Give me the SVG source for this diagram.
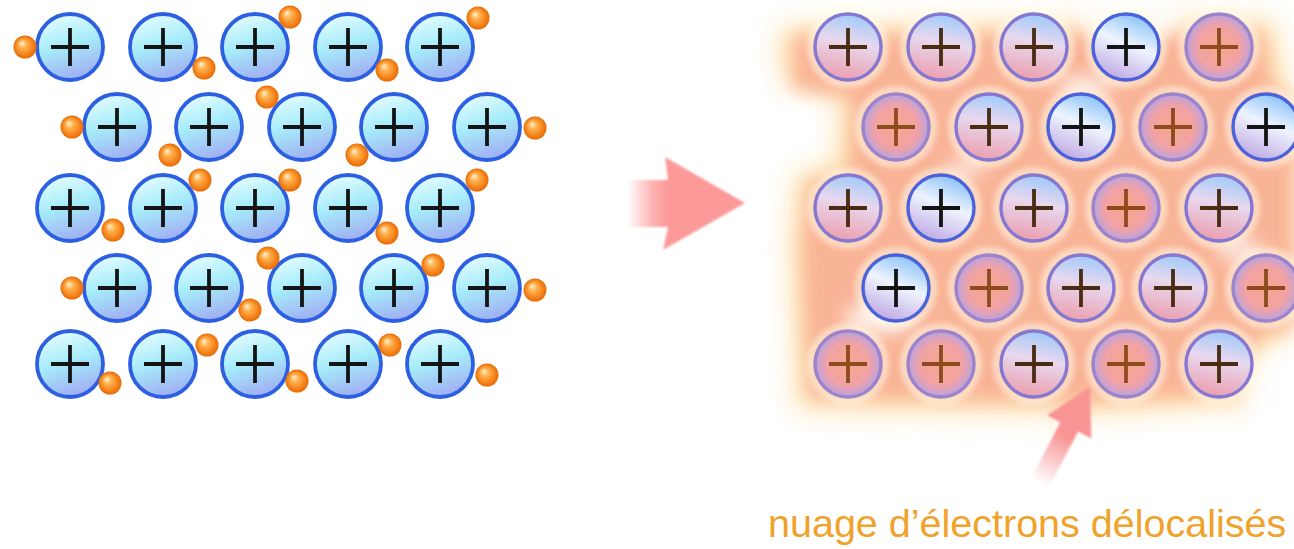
<svg xmlns="http://www.w3.org/2000/svg" xmlns:xlink="http://www.w3.org/1999/xlink" width="1294" height="549" viewBox="0 0 1294 549">
  <style>
    .plus { fill: none; stroke-width: 3.8; stroke-linecap: butt; }
    .ionL { stroke: #2c5fe2; stroke-width: 3.8; fill: url(#gIon); }
    .ionB { stroke: #4a62dc; stroke-width: 3.4; fill: url(#gBlue); }
    .ionM { stroke: #8478d2; stroke-width: 3.4; fill: url(#gMix); }
    .ionP { stroke: #9a84cc; stroke-width: 3.4; fill: url(#gPink); }
    .pB { stroke: #141414; }
    .pM { stroke: #4a2c12; }
    .pP { stroke: #8e4c1e; }
    .elec { fill: url(#gElec); }
    .label { font-family: "Liberation Sans", Arial, sans-serif; font-size: 39.5px; fill: #f0a22a; }
  </style>
  <defs>
    <linearGradient id="gIon" x1="0.35" y1="0" x2="0.65" y2="1">
      <stop offset="0" stop-color="#e4fcff"/>
      <stop offset="0.45" stop-color="#a6ecfa"/>
      <stop offset="1" stop-color="#a0aaf2"/>
    </linearGradient>
    <linearGradient id="gBlue" x1="0.7" y1="0" x2="0.3" y2="1">
      <stop offset="0" stop-color="#86c0f8"/>
      <stop offset="0.45" stop-color="#eef4ff"/>
      <stop offset="1" stop-color="#bea6e2"/>
    </linearGradient>
    <linearGradient id="gMix" x1="0.6" y1="0" x2="0.4" y2="1">
      <stop offset="0" stop-color="#9ecafa"/>
      <stop offset="0.42" stop-color="#e8d8ee"/>
      <stop offset="1" stop-color="#eb9eae"/>
    </linearGradient>
    <radialGradient id="gPink" cx="0.5" cy="0.5" r="0.5">
      <stop offset="0" stop-color="#f8a88e"/>
      <stop offset="0.65" stop-color="#f1a2a4"/>
      <stop offset="1" stop-color="#bca2e0"/>
    </radialGradient>
    <radialGradient id="gElec" cx="0.5" cy="0.5" r="0.5" fx="0.35" fy="0.32">
      <stop offset="0" stop-color="#fff3dc"/>
      <stop offset="0.35" stop-color="#ffb24e"/>
      <stop offset="0.85" stop-color="#f27a12"/>
      <stop offset="1" stop-color="#e46a06"/>
    </radialGradient>
    <linearGradient id="gArrow" gradientUnits="userSpaceOnUse" x1="628" y1="0" x2="668" y2="0">
      <stop offset="0" stop-color="#fc9999" stop-opacity="0"/>
      <stop offset="0.6" stop-color="#fc9999" stop-opacity="0.75"/>
      <stop offset="1" stop-color="#fc9999"/>
    </linearGradient>
    <linearGradient id="gArrow2" gradientUnits="userSpaceOnUse" x1="1040" y1="483" x2="1064" y2="436">
      <stop offset="0" stop-color="#f99494" stop-opacity="0"/>
      <stop offset="1" stop-color="#f99494"/>
    </linearGradient>
    <filter id="blurWide" x="-20%" y="-20%" width="140%" height="140%">
      <feGaussianBlur stdDeviation="14"/>
    </filter>
    <filter id="blurMid" x="-20%" y="-20%" width="140%" height="140%">
      <feGaussianBlur stdDeviation="9"/>
    </filter>
    <filter id="blurSoft" x="-30%" y="-30%" width="160%" height="160%">
      <feGaussianBlur stdDeviation="3"/>
    </filter>
    <filter id="blurTiny" x="-20%" y="-20%" width="140%" height="140%">
      <feGaussianBlur stdDeviation="0.8"/>
    </filter>
    <path id="plus" d="M-19,0 H19 M0,-19 V19"/>
    <g id="ionLeft">
      <circle r="33" class="ionL"/>
      <use xlink:href="#plus" class="plus pB"/>
    </g>
    <g id="ionBlue">
      <circle r="33" class="ionB"/>
      <use xlink:href="#plus" class="plus pB"/>
    </g>
    <g id="ionMix">
      <circle r="33" class="ionM"/>
      <use xlink:href="#plus" class="plus pM"/>
    </g>
    <g id="ionPink">
      <circle r="33" class="ionP"/>
      <use xlink:href="#plus" class="plus pP"/>
    </g>
    <circle id="electron" r="11.5" class="elec"/>
  </defs>

  <rect width="1294" height="549" fill="#ffffff"/>

  <!-- Left: metal lattice with electrons attached to ions -->
  <g id="lattice-left">
    <g id="ionL-1-1"><use xlink:href="#ionLeft" x="70" y="47"/></g>
    <g id="ionL-1-2"><use xlink:href="#ionLeft" x="163" y="47"/></g>
    <g id="ionL-1-3"><use xlink:href="#ionLeft" x="255" y="47"/></g>
    <g id="ionL-1-4"><use xlink:href="#ionLeft" x="348" y="47"/></g>
    <g id="ionL-1-5"><use xlink:href="#ionLeft" x="440" y="47"/></g>
    <g id="ionL-2-1"><use xlink:href="#ionLeft" x="117" y="127"/></g>
    <g id="ionL-2-2"><use xlink:href="#ionLeft" x="209" y="127"/></g>
    <g id="ionL-2-3"><use xlink:href="#ionLeft" x="302" y="127"/></g>
    <g id="ionL-2-4"><use xlink:href="#ionLeft" x="394" y="127"/></g>
    <g id="ionL-2-5"><use xlink:href="#ionLeft" x="487" y="127"/></g>
    <g id="ionL-3-1"><use xlink:href="#ionLeft" x="70" y="208"/></g>
    <g id="ionL-3-2"><use xlink:href="#ionLeft" x="163" y="208"/></g>
    <g id="ionL-3-3"><use xlink:href="#ionLeft" x="255" y="208"/></g>
    <g id="ionL-3-4"><use xlink:href="#ionLeft" x="348" y="208"/></g>
    <g id="ionL-3-5"><use xlink:href="#ionLeft" x="440" y="208"/></g>
    <g id="ionL-4-1"><use xlink:href="#ionLeft" x="117" y="288"/></g>
    <g id="ionL-4-2"><use xlink:href="#ionLeft" x="209" y="288"/></g>
    <g id="ionL-4-3"><use xlink:href="#ionLeft" x="302" y="288"/></g>
    <g id="ionL-4-4"><use xlink:href="#ionLeft" x="394" y="288"/></g>
    <g id="ionL-4-5"><use xlink:href="#ionLeft" x="487" y="288"/></g>
    <g id="ionL-5-1"><use xlink:href="#ionLeft" x="70" y="364"/></g>
    <g id="ionL-5-2"><use xlink:href="#ionLeft" x="163" y="364"/></g>
    <g id="ionL-5-3"><use xlink:href="#ionLeft" x="255" y="364"/></g>
    <g id="ionL-5-4"><use xlink:href="#ionLeft" x="348" y="364"/></g>
    <g id="ionL-5-5"><use xlink:href="#ionLeft" x="440" y="364"/></g>
  </g>

  <g id="electrons-left">
    <use xlink:href="#electron" x="25" y="47"/>
    <use xlink:href="#electron" x="204" y="68"/>
    <use xlink:href="#electron" x="290" y="17"/>
    <use xlink:href="#electron" x="387" y="70"/>
    <use xlink:href="#electron" x="478" y="18"/>
    <use xlink:href="#electron" x="72" y="127"/>
    <use xlink:href="#electron" x="170" y="155"/>
    <use xlink:href="#electron" x="267" y="97"/>
    <use xlink:href="#electron" x="357" y="155"/>
    <use xlink:href="#electron" x="535" y="128"/>
    <use xlink:href="#electron" x="200" y="180"/>
    <use xlink:href="#electron" x="290" y="180"/>
    <use xlink:href="#electron" x="477" y="180"/>
    <use xlink:href="#electron" x="113" y="230"/>
    <use xlink:href="#electron" x="387" y="233"/>
    <use xlink:href="#electron" x="72" y="288"/>
    <use xlink:href="#electron" x="268" y="258"/>
    <use xlink:href="#electron" x="250" y="310"/>
    <use xlink:href="#electron" x="433" y="265"/>
    <use xlink:href="#electron" x="535" y="290"/>
    <use xlink:href="#electron" x="110" y="383"/>
    <use xlink:href="#electron" x="207" y="345"/>
    <use xlink:href="#electron" x="297" y="381"/>
    <use xlink:href="#electron" x="390" y="345"/>
    <use xlink:href="#electron" x="487" y="375"/>
  </g>

  <!-- Right: delocalised electron cloud behind the ions -->
  <g id="electron-cloud">
    <path d="M780,26 L1274,20 L1284,80 L1294,96 L1294,335 L1268,345 L1252,404 L1080,414 L796,410 L790,240 L796,172 L836,166 L840,94 L782,86 Z" fill="#fde2ae" filter="url(#blurWide)"/>
    <path d="M792,36 L1262,30 L1272,84 L1294,104 L1294,326 L1256,338 L1242,394 L1082,402 L808,398 L802,244 L808,182 L848,174 L852,98 L794,88 Z" fill="#f9b396" filter="url(#blurMid)"/>
    <g fill="#ffffff" filter="url(#blurMid)" opacity="0.8">
      <ellipse cx="1130" cy="20" rx="52" ry="22"/>
      <ellipse cx="1085" cy="86" rx="30" ry="10"/>
      <ellipse cx="1275" cy="392" rx="30" ry="40"/>
      <ellipse cx="880" cy="318" rx="36" ry="16"/>
      <ellipse cx="965" cy="168" rx="20" ry="8"/>
      <ellipse cx="1240" cy="250" rx="24" ry="10"/>
    </g>
    <g fill="none" stroke="#fffbe8" stroke-width="5" filter="url(#blurSoft)" opacity="0.9">
      <circle cx="848" cy="47" r="37"/><circle cx="941" cy="47" r="37"/><circle cx="1034" cy="47" r="37"/><circle cx="1126" cy="47" r="37"/><circle cx="1219" cy="47" r="37"/>
      <circle cx="896" cy="127" r="37"/><circle cx="989" cy="127" r="37"/><circle cx="1081" cy="127" r="37"/><circle cx="1173" cy="127" r="37"/><circle cx="1266" cy="127" r="37"/>
      <circle cx="848" cy="208" r="37"/><circle cx="941" cy="208" r="37"/><circle cx="1034" cy="208" r="37"/><circle cx="1126" cy="208" r="37"/><circle cx="1219" cy="208" r="37"/>
      <circle cx="896" cy="288" r="37"/><circle cx="989" cy="288" r="37"/><circle cx="1081" cy="288" r="37"/><circle cx="1173" cy="288" r="37"/><circle cx="1266" cy="288" r="37"/>
      <circle cx="848" cy="364" r="37"/><circle cx="941" cy="364" r="37"/><circle cx="1034" cy="364" r="37"/><circle cx="1126" cy="364" r="37"/><circle cx="1219" cy="364" r="37"/>
    </g>
  </g>

  <g id="lattice-right">
    <g id="ionR-1-1"><use xlink:href="#ionMix" x="848" y="47"/></g>
    <g id="ionR-1-2"><use xlink:href="#ionMix" x="941" y="47"/></g>
    <g id="ionR-1-3"><use xlink:href="#ionMix" x="1034" y="47"/></g>
    <g id="ionR-1-4"><use xlink:href="#ionBlue" x="1126" y="47"/></g>
    <g id="ionR-1-5"><use xlink:href="#ionPink" x="1219" y="47"/></g>
    <g id="ionR-2-1"><use xlink:href="#ionPink" x="896" y="127"/></g>
    <g id="ionR-2-2"><use xlink:href="#ionMix" x="989" y="127"/></g>
    <g id="ionR-2-3"><use xlink:href="#ionBlue" x="1081" y="127"/></g>
    <g id="ionR-2-4"><use xlink:href="#ionPink" x="1173" y="127"/></g>
    <g id="ionR-2-5"><use xlink:href="#ionBlue" x="1266" y="127"/></g>
    <g id="ionR-3-1"><use xlink:href="#ionMix" x="848" y="208"/></g>
    <g id="ionR-3-2"><use xlink:href="#ionBlue" x="941" y="208"/></g>
    <g id="ionR-3-3"><use xlink:href="#ionMix" x="1034" y="208"/></g>
    <g id="ionR-3-4"><use xlink:href="#ionPink" x="1126" y="208"/></g>
    <g id="ionR-3-5"><use xlink:href="#ionMix" x="1219" y="208"/></g>
    <g id="ionR-4-1"><use xlink:href="#ionBlue" x="896" y="288"/></g>
    <g id="ionR-4-2"><use xlink:href="#ionPink" x="989" y="288"/></g>
    <g id="ionR-4-3"><use xlink:href="#ionMix" x="1081" y="288"/></g>
    <g id="ionR-4-4"><use xlink:href="#ionMix" x="1173" y="288"/></g>
    <g id="ionR-4-5"><use xlink:href="#ionPink" x="1266" y="288"/></g>
    <g id="ionR-5-1"><use xlink:href="#ionPink" x="848" y="364"/></g>
    <g id="ionR-5-2"><use xlink:href="#ionPink" x="941" y="364"/></g>
    <g id="ionR-5-3"><use xlink:href="#ionMix" x="1034" y="364"/></g>
    <g id="ionR-5-4"><use xlink:href="#ionPink" x="1126" y="364"/></g>
    <g id="ionR-5-5"><use xlink:href="#ionMix" x="1219" y="364"/></g>
  </g>

  <!-- Connectors: transition arrow and pointer to the cloud -->
  <g id="connectors">
    <path id="arrow-main" d="M628,180 L668,180 L665,157 L745,203 L663,250 L668,227 L628,227 Z" fill="url(#gArrow)" filter="url(#blurTiny)"/>
    <path id="arrow-cloud" d="M1090,387 L1091.4,438.5 L1078.1,431.5 L1048.9,487.6 L1031.1,478.4 L1060.3,422.3 L1047,415.3 Z" fill="url(#gArrow2)" filter="url(#blurTiny)"/>
  </g>

  <g id="caption">
    <text class="label" x="768" y="537">nuage d’électrons délocalisés</text>
  </g>
</svg>
